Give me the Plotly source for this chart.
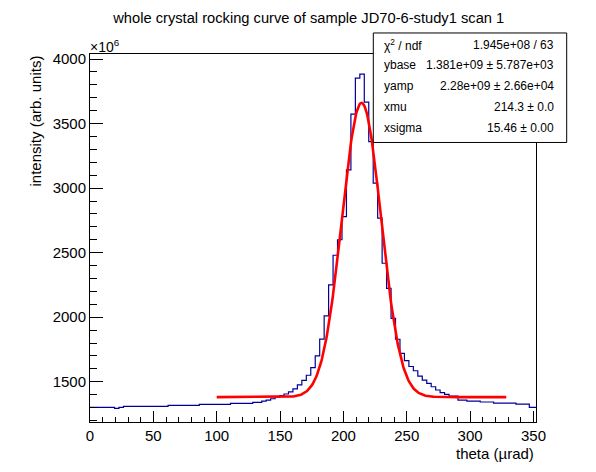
import numpy as np
import plotly.graph_objects as go

# histogram: bin centres start at 0 and step by 3.52 urad, values in units of 1e6
bin_start = 0.0
bin_step = 3.52
intensity = [
    1302, 1302, 1302, 1302, 1302, 1302, 1294, 1302,
    1309, 1309, 1309, 1309, 1309, 1309, 1309, 1309, 1309, 1309,
    1317, 1317, 1317, 1317, 1317, 1317, 1317,
    1325, 1325, 1325, 1325, 1325, 1325, 1325,
    1332, 1332, 1332, 1332, 1332,
    1340, 1340, 1350, 1358, 1368, 1380, 1392, 1405, 1422, 1445,
    1475, 1510, 1550, 1610, 1700, 1830, 2010, 2250, 2480, 2600,
    2779, 3141, 3573, 3852, 3883, 3666, 3360, 3038, 2767, 2418,
    2224, 1991, 1829, 1720, 1663, 1618, 1585, 1544, 1513, 1487,
    1461, 1436, 1415, 1402, 1389, 1389, 1358, 1358, 1350, 1350,
    1350, 1343, 1343, 1343, 1335, 1335, 1335, 1335, 1335,
    1327, 1327, 1327, 1301, 1301,
]

# fit results (gaussian on a flat base), shown in the stats box
ybase = 1381.0
yamp = 2280.0
xmu = 214.3
xsigma = 15.46
fit_range = [100.0, 328.5]

stat_labels = ["χ<sup>2</sup> / ndf", "ybase", "yamp", "xmu", "xsigma"]
stat_values = ["1.945e+08 / 63", "1.381e+09 ± 5.787e+03", "2.28e+09 ± 2.66e+04",
               "214.3 ± 0.0", "15.46 ± 0.00"]

FONT = "Liberation Sans, Arial, Helvetica, sans-serif"

# frame of the plot area in page pixels
L, R, T, B = 90, 536, 54.3, 422


def px(x):
    return (x - L) / (R - L)


def py(y):
    return (B - y) / (B - T)


xf = np.linspace(fit_range[0], fit_range[1], 400)
yf = ybase + yamp * np.exp(-(xf - xmu) ** 2 / (2 * xsigma ** 2))

fig = go.Figure()
fig.add_trace(go.Scatter(
    y=intensity, x0=bin_start, dx=bin_step, mode="lines",
    line=dict(color="#000099", width=1.2, shape="hvh"),
    showlegend=False, hoverinfo="x+y",
))
fig.add_trace(go.Scatter(
    x=xf, y=yf, mode="lines",
    line=dict(color="#ff0000", width=2.6),
    showlegend=False,
))

fig.update_layout(
    width=596, height=472,
    margin=dict(l=L, r=596 - R, t=54, b=472 - B, autoexpand=False),
    paper_bgcolor="white", plot_bgcolor="white",
    font=dict(family=FONT, color="black"),
    title=dict(text="whole crystal rocking curve of sample JD70-6-study1 scan 1",
               x=0.518, xanchor="center", y=1 - 18 / 472, yanchor="middle",
               font=dict(size=14.7, family=FONT)),
)

fig.update_xaxes(
    range=[0, 352], showgrid=False, zeroline=False, automargin=False,
    showline=True, linecolor="black", linewidth=1, mirror=True,
    ticks="inside", ticklen=11, tickcolor="black",
    tick0=0, dtick=50, tickfont=dict(size=15), ticklabelstandoff=0,
    minor=dict(ticks="inside", dtick=10, ticklen=5, tickcolor="black"),
)
fig.update_yaxes(
    range=[1188, 4039], showgrid=False, zeroline=False, automargin=False,
    showline=True, linecolor="black", linewidth=1, mirror=True,
    ticks="inside", ticklen=13, tickcolor="black",
    tick0=1500, dtick=500, tickfont=dict(size=15),
    minor=dict(ticks="inside", dtick=100, ticklen=7, tickcolor="black"),
)

ann = []
ann.append(dict(text="×10<sup>6</sup>", x=px(88), y=py(46), xref="paper", yref="paper",
                xanchor="left", yanchor="middle", showarrow=False, font=dict(size=14)))
ann.append(dict(text="intensity (arb. units)", x=px(35), y=1.0, xref="paper", yref="paper",
                xanchor="center", yanchor="top", textangle=-90, showarrow=False,
                font=dict(size=15)))
ann.append(dict(text="theta (µrad)", x=1.0, y=py(453), xref="paper", yref="paper",
                xanchor="right", yanchor="middle", showarrow=False, font=dict(size=15)))

# stats box
box = dict(x0=373.3, x1=566.7, y0=33.3, y1=142.7)
fig.add_shape(type="rect", xref="paper", yref="paper",
              x0=px(box["x0"]), x1=px(box["x1"]), y0=py(box["y1"]), y1=py(box["y0"]),
              line=dict(color="black", width=1), fillcolor="white", layer="above")
row_y = [45, 65.5, 86, 107, 128.5]
for lab, val, yy in zip(stat_labels, stat_values, row_y):
    ann.append(dict(text=lab, x=px(382), y=py(yy), xref="paper", yref="paper",
                    xanchor="left", yanchor="middle", showarrow=False, font=dict(size=12)))
    ann.append(dict(text=val, x=px(556), y=py(yy), xref="paper", yref="paper",
                    xanchor="right", yanchor="middle", showarrow=False, font=dict(size=12)))
fig.update_layout(annotations=ann)

# page margin of the browser would shift the whole picture, so drop it
fig.write_html("out.html", config={"displayModeBar": False},
               post_script="document.body.style.margin='0';")
